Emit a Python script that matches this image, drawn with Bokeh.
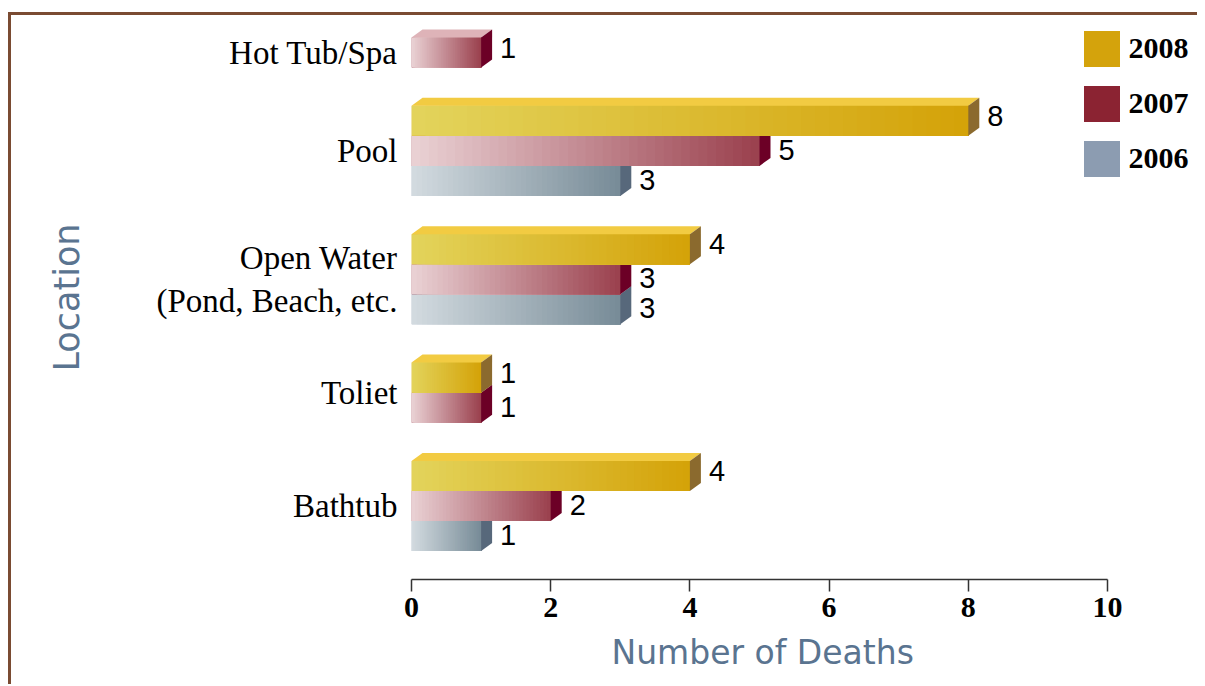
from bokeh.plotting import figure
from bokeh.models import Range1d, FixedTicker, Legend, LegendItem, ColumnDataSource, Title
from bokeh.embed import file_html
from bokeh.resources import INLINE
from bokeh.core.properties import value

# ---------------- data ----------------
categories = ["Hot Tub/Spa", "Pool", "Open Water\n(Pond, Beach, etc.", "Toliet", "Bathtub"]
years = ["2008", "2007", "2006"]
deaths_2008 = [None, 8, 4, 1, 4]
deaths_2007 = [1, 5, 3, 1, 2]
deaths_2006 = [None, 3, 3, None, 1]
x_ticks = [0, 2, 4, 6, 8, 10]

# ---------------- styles ----------------
legend_colors = {"2008": "#d4a30c", "2007": "#8b2332", "2006": "#8c9cb1"}
grad_left = {"2008": "#e3d45c", "2007": "#ead2d5", "2006": "#d3dbe0"}
grad_right = {"2008": "#d4a208", "2007": "#9a404d", "2006": "#778b97"}
top_colors = {"2008": "#f2cb42", "2007": "#deb3b8", "2006": "#b5c2cb"}
side_colors = {"2008": "#8b6a2e", "2007": "#6c0026", "2006": "#57687b"}
AXIS_BLUE = "#5a7490"

series = {"2008": deaths_2008, "2007": deaths_2007, "2006": deaths_2006}

PX_X = 69.6      # px per x unit
PX_Y = 30.07     # px per bar slot
GAP = 1.27       # gap between groups in slot units
DX = 11 / PX_X   # 3D depth in data units
DY = 8 / PX_Y

# slot layout (y grows downward)
bars = {yr: [] for yr in years}
centers = []
pos = 0.0
for i, cat in enumerate(categories):
    start = pos
    first = True
    for yr in years:
        v = series[yr][i]
        if v is not None:
            bars[yr].append((pos, v, first))
            first = False
            pos += 1
    centers.append(round((start + pos) / 2, 3))
    pos += GAP

frame_w = 786
frame_h = 564
y_top = -22 / PX_Y
y_bot = y_top + frame_h / PX_Y

p = figure(frame_width=frame_w, frame_height=frame_h,
           x_range=Range1d(0, frame_w / PX_X), y_range=Range1d(y_bot, y_top),
           output_backend="svg", toolbar_location=None,
           min_border_left=400, min_border_right=0, min_border_top=0, min_border_bottom=95)
p.outline_line_color = None
p.xgrid.visible = False
p.ygrid.visible = False
p.background_fill_color = "white"
p.border_fill_color = "white"
p.styles = {"border-left": "3px solid #7a4b32", "border-top": "3px solid #7a4b32",
            "margin-left": "8px", "margin-top": "12px"}


def mix(c1, c2, t):
    a = [int(c1[k:k + 2], 16) for k in (1, 3, 5)]
    b = [int(c2[k:k + 2], 16) for k in (1, 3, 5)]
    return "#%02x%02x%02x" % tuple(round(a[j] + (b[j] - a[j]) * t) for j in range(3))


N = 40
legend_renderers = {}
for yr in ["2006", "2007", "2008"]:
    tops = [b[0] for b in bars[yr]]
    vals = [b[1] for b in bars[yr]]
    src = ColumnDataSource(dict(y=[t + 0.5 for t in tops], right=vals))
    r = p.hbar(y="y", right="right", left=0, height=1, source=src,
               fill_color=legend_colors[yr], line_color=None)
    legend_renderers[yr] = r
    # gradient strips (each strip runs to the bar end, painted left to right)
    L, R, T, B, C = [], [], [], [], []
    for t, v, f in bars[yr]:
        for k in range(N):
            L.append(v * k / N)
            R.append(v)
            T.append(t)
            B.append(t + 1)
            C.append(mix(grad_left[yr], grad_right[yr], (k + 0.5) / N))
    p.quad(left=L, right=R, top=T, bottom=B, fill_color=C, line_color=None)
    # top faces
    xs_top = [[0, v, v + DX, DX] for t, v, f in bars[yr]]
    ys_top = [[t, t, t - DY, t - DY] for t, v, f in bars[yr]]
    p.patches(xs_top, ys_top, fill_color=top_colors[yr], line_color=None)
    # side faces
    xs_side = [[v, v, v + DX, v + DX] for t, v, f in bars[yr]]
    ys_side = [[t, t + 1, t + 1 - DY, t - DY] for t, v, f in bars[yr]]
    p.patches(xs_side, ys_side, fill_color=side_colors[yr], line_color=None)
    # value labels
    p.text(x=vals, y=[t + 0.5 - (DY / 2 if f else 0) for t, v, f in bars[yr]],
           text=[str(v) for v in vals],
           x_offset=19, y_offset=-1, text_baseline="middle", text_align="left",
           text_font=value("Liberation Sans"), text_font_size="29px", text_color="black")

# legend
legend = Legend(items=[LegendItem(label=yr, renderers=[legend_renderers[yr]]) for yr in years],
                location=(667.5, 398.5), margin=0, padding=0, spacing=10,
                glyph_width=45, glyph_height=45, label_height=45, label_standoff=5,
                border_line_color=None, background_fill_alpha=0,
                label_text_font="Liberation Serif", label_text_font_style="bold",
                label_text_font_size="30px", label_text_color="black")
p.add_layout(legend)

# x axis
xa = p.xaxis[0]
xa.ticker = FixedTicker(ticks=x_ticks)
xa.bounds = (0, 10)
xa.axis_line_color = "#333333"
xa.axis_line_width = 1.5
xa.major_tick_line_color = "#333333"
xa.major_tick_line_width = 1.5
xa.major_tick_out = 12
xa.major_tick_in = 0
xa.minor_tick_line_color = None
xa.major_label_standoff = 6
xa.major_label_text_font = "Liberation Serif"
xa.major_label_text_font_style = "bold"
xa.major_label_text_font_size = "30px"
xa.major_label_text_color = "black"

# x axis title, centred under the 0-10 span of the axis
xtitle = Title(text="Number of Deaths", align="left", offset=200, standoff=24,
               vertical_align="middle",
               text_font="DejaVu Sans", text_font_style="normal",
               text_font_size="33px", text_color=AXIS_BLUE)
p.add_layout(xtitle, "below")

# y axis
ya = p.yaxis[0]
ya.ticker = FixedTicker(ticks=centers)
ya.major_label_overrides = {c: name for c, name in zip(centers, categories)}
ya.axis_line_color = None
ya.major_tick_line_color = None
ya.minor_tick_line_color = None
ya.major_label_standoff = 8
ya.major_label_text_font = "Liberation Serif"
ya.major_label_text_font_size = "33px"
ya.major_label_text_color = "black"
ya.axis_label = "Location"
ya.axis_label_text_font = "DejaVu Sans"
ya.axis_label_text_font_style = "normal"
ya.axis_label_text_font_size = "35px"
ya.axis_label_text_color = AXIS_BLUE
ya.axis_label_standoff = 66

open("out.html", "w").write(file_html(p, INLINE))
